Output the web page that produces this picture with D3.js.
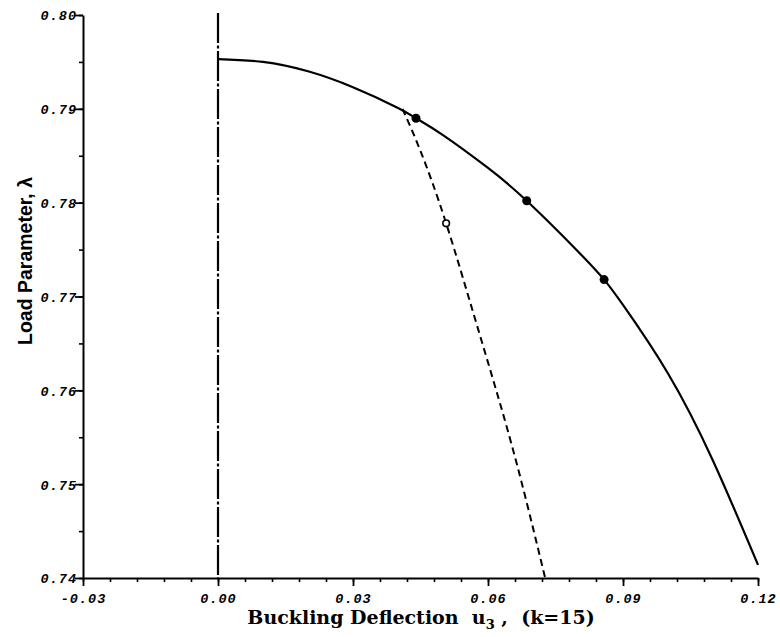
<!DOCTYPE html>
<html>
<head>
<meta charset="utf-8">
<script src="https://cdn.jsdelivr.net/npm/d3@7"></script>
<style>
html,body{margin:0;padding:0;background:#fff;}
svg{display:block;}
</style>
</head>
<body>
<svg id="chart" width="780" height="637"></svg>
<script>
// Data
const xTicks = [-0.03, 0.00, 0.03, 0.06, 0.09, 0.12];
const xTickLabels = ["-0.03", "0.00", "0.03", "0.06", "0.09", "0.12"];
const yTicks = [0.74, 0.75, 0.76, 0.77, 0.78, 0.79, 0.80];
const yTickLabels = ["0.74", "0.75", "0.76", "0.77", "0.78", "0.79", "0.80"];

// Main (solid) post-buckling curve
const curveU = [0.000, 0.010, 0.020, 0.030, 0.040, 0.044, 0.050, 0.060, 0.0686, 0.080, 0.0858, 0.090, 0.100, 0.110, 0.120];
const curveL = [0.7953, 0.7950, 0.7940, 0.7923, 0.7901, 0.7890, 0.7872, 0.7837, 0.7802, 0.7748, 0.7718, 0.7691, 0.7618, 0.7525, 0.7414];

// Filled markers on the solid curve
const dotsU = [0.0440, 0.0686, 0.0858];
const dotsL = [0.7890, 0.7802, 0.7718];

// Dashed branch
const dashU = [0.0410, 0.0450, 0.0507, 0.0580, 0.0656, 0.0727];
const dashL = [0.7900, 0.7855, 0.7778, 0.7662, 0.7536, 0.7400];

// Open marker on dashed branch
const openU = [0.0507];
const openL = [0.7778];

const svg = d3.select("#chart");
const mLeft = 83, mRight = 758, mTop = 15, mBottom = 578;

const x = d3.scaleLinear().domain([-0.03, 0.12]).range([mLeft, mRight]);
const y = d3.scaleLinear().domain([0.74, 0.80]).range([mBottom, mTop]);

const tickFont = "'Liberation Mono', 'DejaVu Sans Mono', monospace";

// X axis
const xMinor = d3.range(-0.03, 0.1201, 0.006).map(v => +v.toFixed(4));
const gx = svg.append("g").attr("transform", `translate(0,${mBottom})`);
gx.call(d3.axisBottom(x).tickValues(xMinor).tickSize(4).tickFormat(""));
gx.call(g => g.select(".domain").remove());
gx.selectAll("line").attr("stroke", "#000").attr("stroke-width", 1.6);
const gx2 = svg.append("g").attr("transform", `translate(0,${mBottom})`);
gx2.call(d3.axisBottom(x).tickValues(xTicks).tickSize(8).tickSizeOuter(0)
    .tickFormat((d, i) => xTickLabels[i]));
gx2.select(".domain").attr("stroke", "#000").attr("stroke-width", 2);
gx2.selectAll(".tick line").attr("stroke", "#000").attr("stroke-width", 1.8);
gx2.selectAll(".tick text")
  .attr("y", 15).attr("dy", "0.71em")
  .style("font-family", tickFont).style("font-weight", "bold").style("font-style", "italic")
  .style("font-size", "13.5px").style("letter-spacing", "1px").attr("fill", "#000");

// Y axis
const yMinor = d3.range(0.74, 0.8001, 0.005).map(v => +v.toFixed(4));
const gy = svg.append("g").attr("transform", `translate(${mLeft},0)`);
gy.call(d3.axisLeft(y).tickValues(yMinor).tickSize(4).tickFormat(""));
gy.call(g => g.select(".domain").remove());
gy.selectAll("line").attr("stroke", "#000").attr("stroke-width", 1.6);
const gy2 = svg.append("g").attr("transform", `translate(${mLeft},0)`);
gy2.call(d3.axisLeft(y).tickValues(yTicks).tickSize(8).tickSizeOuter(0)
    .tickFormat((d, i) => yTickLabels[i]));
gy2.select(".domain").attr("stroke", "#000").attr("stroke-width", 2);
gy2.selectAll(".tick line").attr("stroke", "#000").attr("stroke-width", 1.8);
gy2.selectAll(".tick text")
  .attr("x", -6).attr("dy", "0.36em")
  .style("font-family", tickFont).style("font-weight", "bold").style("font-style", "italic")
  .style("font-size", "13.5px").style("letter-spacing", "1px").attr("fill", "#000");

// Vertical dash-dot line at u3 = 0
svg.append("line")
  .attr("x1", x(0)).attr("x2", x(0))
  .attr("y1", y(0.80) - 2).attr("y2", y(0.74))
  .attr("stroke", "#000").attr("stroke-width", 2.2)
  .attr("stroke-dasharray", "30,2.5,3,2.5");

const line = d3.line().curve(d3.curveNatural);

// Solid curve
svg.append("path")
  .attr("d", line(curveU.map((u, i) => [x(u), y(curveL[i])])))
  .attr("fill", "none").attr("stroke", "#000").attr("stroke-width", 2.2);

// Dashed branch
svg.append("path")
  .attr("d", line(dashU.map((u, i) => [x(u), y(dashL[i])])))
  .attr("fill", "none").attr("stroke", "#000").attr("stroke-width", 2)
  .attr("stroke-dasharray", "7,4.5");

// Filled markers
svg.selectAll(".dot").data(dotsU).enter().append("circle")
  .attr("cx", d => x(d)).attr("cy", (d, i) => y(dotsL[i])).attr("r", 4.5)
  .attr("fill", "#000");

// Open marker
svg.selectAll(".odot").data(openU).enter().append("circle")
  .attr("cx", d => x(d)).attr("cy", (d, i) => y(openL[i])).attr("r", 3.3)
  .attr("fill", "#fff").attr("stroke", "#000").attr("stroke-width", 1.6);

// X title
const xt = svg.append("text")
  .attr("x", 421).attr("y", 624).attr("text-anchor", "middle")
  .style("font-family", "'DejaVu Serif', 'Liberation Serif', serif")
  .style("font-weight", "bold").style("font-size", "19px").attr("fill", "#000");
xt.append("tspan").text("Buckling Deflection\u00A0\u00A0u");
xt.append("tspan").attr("dy", 5).style("font-size", "13px").text("3");
xt.append("tspan").attr("dy", -5).text("\u00A0,\u00A0\u00A0(k=15)");

// Y title
svg.append("text")
  .attr("transform", "translate(32,261) rotate(-90)")
  .attr("text-anchor", "middle")
  .style("font-family", "'Liberation Sans', Arial, sans-serif")
  .style("font-weight", "bold").style("font-size", "19.5px").attr("fill", "#000")
  .text("Load Parameter, \u03BB");
</script>
</body>
</html>
